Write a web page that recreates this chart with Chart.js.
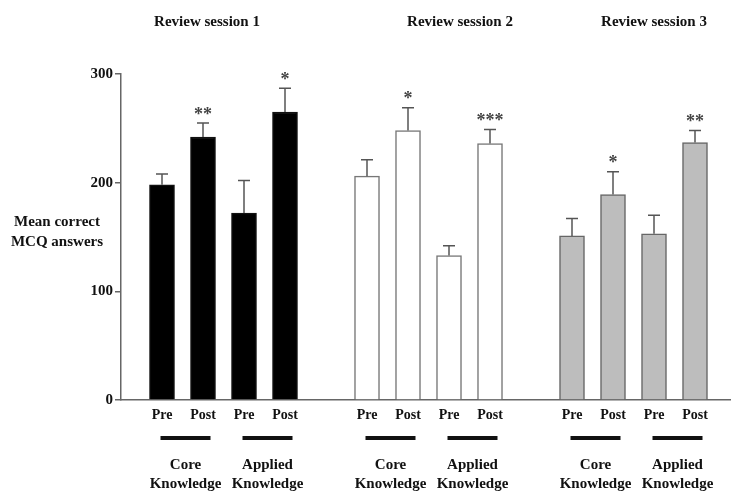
<!DOCTYPE html>
<html>
<head>
<meta charset="utf-8">
<script src="https://cdn.jsdelivr.net/npm/chart.js"></script>
<style>
  body{margin:0;background:#fff}
  #wrap{width:731px;height:491px}
</style>
</head>
<body>
<div id="wrap"><canvas id="c" width="731" height="491"></canvas></div>
<script>
// data
const sessions = ['Review session 1','Review session 2','Review session 3'];
const conditions = ['Pre','Post','Pre','Post'];
const groups = [['Core','Knowledge'],['Applied','Knowledge']];
const s1Mean = [198, 242, 172, 265];
const s1Sem  = [10, 13, 30, 22];
const s2Mean = [206, 248, 133, 236];
const s2Sem  = [15, 21, 9, 13];
const s3Mean = [151, 189, 153, 237];
const s3Sem  = [16, 21, 17, 11];
const s1Stars = ['', '**', '', '*'];
const s2Stars = ['', '*', '', '***'];
const s3Stars = ['', '*', '', '**'];
const yTicks = [0, 100, 200, 300];

const means = [s1Mean, s2Mean, s3Mean];
const sems = [s1Sem, s2Sem, s3Sem];
const stars = [s1Stars, s2Stars, s3Stars];
const fills = ['#000000', '#ffffff', '#bdbdbd'];
const borders = ['#111111', '#777777', '#666666'];
const serif = '"Liberation Serif", "DejaVu Serif", serif';

// slot position on x: one empty slot before each session
const pos = (g, i) => g*5 + i + 1;

const datasets = sessions.map((s, g) => ({
  label: s,
  data: means[g].map((v, i) => ({x: pos(g, i), y: v})),
  backgroundColor: fills[g],
  borderColor: borders[g],
  borderWidth: 1.5,
  borderSkipped: 'bottom',
  barThickness: 25,
  grouped: false,
  sem: sems[g],
  stars: stars[g]
}));

const annot = {
  id: 'annot',
  afterDatasetsDraw(chart){
    const ctx = chart.ctx, y = chart.scales.y;
    ctx.save();
    // error bars + significance stars
    chart.data.datasets.forEach((ds, g) => {
      chart.getDatasetMeta(g).data.forEach((bar, i) => {
        const top = y.getPixelForValue(ds.data[i].y + ds.sem[i]);
        ctx.strokeStyle = '#555'; ctx.lineWidth = 1.5;
        ctx.beginPath();
        ctx.moveTo(bar.x, bar.y); ctx.lineTo(bar.x, top);
        ctx.moveTo(bar.x - 6, top); ctx.lineTo(bar.x + 6, top);
        ctx.stroke();
        if (ds.stars[i]) {
          ctx.fillStyle = '#444'; ctx.font = 'bold 18px ' + serif;
          ctx.textAlign = 'center'; ctx.textBaseline = 'middle';
          ctx.fillText(ds.stars[i], bar.x, top - 8);
        }
      });
    });
    ctx.restore();
  },
  afterDraw(chart){
    const ctx = chart.ctx, x = chart.scales.x;
    ctx.save();
    ctx.fillStyle = '#111'; ctx.textAlign = 'center'; ctx.textBaseline = 'middle';
    // session titles
    ctx.font = 'bold 15px ' + serif;
    [207, 460, 654].forEach((cx, g) => ctx.fillText(sessions[g], cx, 22));
    // y label
    ctx.fillText('Mean correct', 57, 222);
    ctx.fillText('MCQ answers', 57, 242);
    sessions.forEach((s, g) => {
      ctx.font = 'bold 14px ' + serif;
      conditions.forEach((c, i) => ctx.fillText(c, x.getPixelForValue(pos(g, i)), 415));
      groups.forEach((lab, k) => {
        const cx = (x.getPixelForValue(pos(g, k*2)) + x.getPixelForValue(pos(g, k*2+1))) / 2 + 3;
        ctx.fillRect(cx - 25, 436, 50, 4);
        ctx.font = 'bold 15px ' + serif;
        ctx.fillText(lab[0], cx, 465);
        ctx.fillText(lab[1], cx, 484);
      });
    });
    ctx.restore();
  }
};

new Chart(document.getElementById('c'), {
  type: 'bar',
  data: {datasets},
  options: {
    responsive: false,
    animation: false,
    layout: {padding: {top: 74, left: 0, right: 0, bottom: 0}},
    plugins: {legend: {display: false}, tooltip: {enabled: false}},
    scales: {
      x: {
        type: 'linear', min: 0, max: 610/41, offset: false,
        grid: {display: false},
        border: {display: true, color: '#666', width: 1.5},
        ticks: {display: false},
        afterFit: s => { s.height = 91; }
      },
      y: {
        min: 0, max: 300,
        afterBuildTicks: s => { s.ticks = yTicks.map(v => ({value: v})); },
        grid: {drawOnChartArea: false, drawTicks: true, tickLength: 6, color: '#666', lineWidth: 1.5},
        border: {display: true, color: '#666', width: 1.5},
        ticks: {color: '#111', padding: 2, font: {family: serif, size: 15, weight: 'bold'}},
        afterFit: s => { s.width = 121; }
      }
    }
  },
  plugins: [annot]
});
</script>
</body>
</html>
